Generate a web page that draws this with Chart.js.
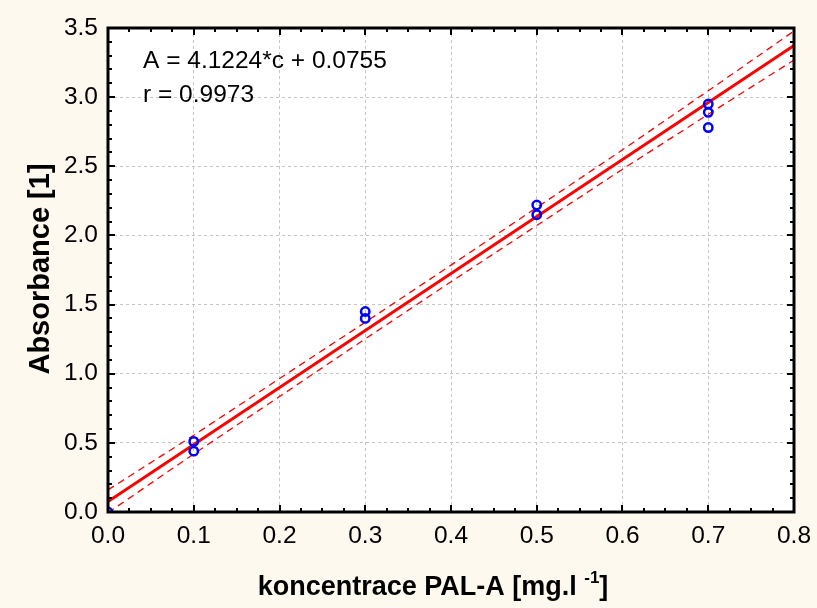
<!DOCTYPE html>
<html>
<head>
<meta charset="utf-8">
<script src="https://cdn.jsdelivr.net/npm/chart.js@4.4.0/dist/chart.umd.min.js"></script>
<style>
  html, body { margin: 0; padding: 0; background: #fdf9ef; }
  #wrap { width: 817px; height: 608px; }
</style>
</head>
<body>
<div id="wrap"><canvas id="chartContainer"></canvas></div>
<script>
"use strict";

// 1: data
let concX   = [0.0, 0.1, 0.1, 0.3, 0.3, 0.5, 0.5, 0.7, 0.7, 0.7];
let absorbY = [0.00, 0.51, 0.44, 1.45, 1.40, 2.22, 2.15, 2.95, 2.89, 2.78];

// regression line (end points from A = 4.1224*c + 0.0755)
let fitX = [0.0, 0.8];
let fitY = [0.0755, 3.3734];

// confidence band (dashed)
let bandX  = [0.0, 0.1, 0.2, 0.3, 0.4, 0.5, 0.6, 0.7, 0.8];
let upperY = [0.160, 0.555, 0.965, 1.372, 1.785, 2.202, 2.619, 3.046, 3.478];
let lowerY = [-0.005, 0.420, 0.835, 1.252, 1.665, 2.072, 2.479, 2.876, 3.268];

// axes
let xTicks = [0.0, 0.1, 0.2, 0.3, 0.4, 0.5, 0.6, 0.7, 0.8];
let yTicks = [0.0, 0.5, 1.0, 1.5, 2.0, 2.5, 3.0, 3.5];
let xMinorPerMajor = 4;
let yMinorPerMajor = 5;

// texts
let equationText = 'A = 4.1224*c + 0.0755';
let rText = 'r = 0.9973';
let yTitle = 'Absorbance [1]';
let xTitle = 'koncentrace PAL-A [mg.l ';
let xTitleSup = '-1';
let xTitleEnd = ']';

const FONT = '"Liberation Sans", Arial, sans-serif';

// 2: prepare data for chart
function toPoints(xs, ys) {
  let pts = [];
  for (let i = 0; i < xs.length; i++) {
    pts.push({ x: xs[i], y: ys[i] });
  }
  return pts;
}

// 3: frame, inner ticks, texts
const decorPlugin = {
  id: 'decor',
  beforeDraw(chart) {
    const { ctx, chartArea: a } = chart;
    ctx.save();
    ctx.fillStyle = '#fdf9ef';
    ctx.fillRect(0, 0, chart.width, chart.height);
    ctx.fillStyle = '#ffffff';
    ctx.fillRect(a.left, a.top, a.right - a.left, a.bottom - a.top);
    ctx.restore();
  },
  afterDraw(chart) {
    const { ctx, chartArea: a, scales: { x, y } } = chart;
    ctx.save();
    ctx.strokeStyle = '#000';
    ctx.lineWidth = 2;
    ctx.beginPath();
    // x ticks (bottom and top)
    for (let i = 0; i < xTicks.length; i++) {
      const steps = i < xTicks.length - 1 ? xMinorPerMajor : 1;
      for (let k = 0; k < steps; k++) {
        const v = xTicks[i] + (k / xMinorPerMajor) * (xTicks[1] - xTicks[0]);
        const px = Math.round(x.getPixelForValue(v));
        const len = k === 0 ? 7 : 4;
        ctx.moveTo(px, a.bottom); ctx.lineTo(px, a.bottom - len);
        ctx.moveTo(px, a.top); ctx.lineTo(px, a.top + len);
      }
    }
    // y ticks (left and right)
    for (let i = 0; i < yTicks.length; i++) {
      const steps = i < yTicks.length - 1 ? yMinorPerMajor : 1;
      for (let k = 0; k < steps; k++) {
        const v = yTicks[i] + (k / yMinorPerMajor) * (yTicks[1] - yTicks[0]);
        const py = Math.round(y.getPixelForValue(v));
        const len = k === 0 ? 7 : 4;
        ctx.moveTo(a.left, py); ctx.lineTo(a.left + len, py);
        ctx.moveTo(a.right, py); ctx.lineTo(a.right - len, py);
      }
    }
    ctx.stroke();

    // frame
    ctx.lineWidth = 3;
    ctx.strokeRect(a.left, a.top, a.right - a.left, a.bottom - a.top);

    // equation texts
    ctx.fillStyle = '#000';
    ctx.font = '24.5px ' + FONT;
    ctx.textAlign = 'left';
    ctx.textBaseline = 'alphabetic';
    ctx.fillText(equationText, 143, 68);
    ctx.fillText(rText, 143, 102);

    // y title
    ctx.font = 'bold 29px ' + FONT;
    ctx.save();
    ctx.translate(49, 269);
    ctx.rotate(-Math.PI / 2);
    ctx.textAlign = 'center';
    ctx.fillText(yTitle, 0, 0);
    ctx.restore();

    // x title with superscript
    const big = 'bold 27px ' + FONT;
    const small = 'bold 17px ' + FONT;
    ctx.font = big;
    const w1 = ctx.measureText(xTitle).width;
    const w3 = ctx.measureText(xTitleEnd).width;
    ctx.font = small;
    const w2 = ctx.measureText(xTitleSup).width;
    let sx = 433 - (w1 + w2 + w3) / 2;
    const base = 595;
    ctx.font = big;
    ctx.fillText(xTitle, sx, base);
    ctx.font = small;
    ctx.fillText(xTitleSup, sx + w1, base - 12);
    ctx.font = big;
    ctx.fillText(xTitleEnd, sx + w1 + w2, base);
    ctx.restore();
  }
};

// 4: create the chart
function appendChart() {
  let chartContainer = document.getElementById('chartContainer');
  Chart.defaults.font.family = FONT;
  new Chart(chartContainer, {
    type: 'scatter',
    data: {
      datasets: [{
        label: 'measured',
        data: toPoints(concX, absorbY),
        showLine: false,
        pointStyle: 'circle',
        pointRadius: 4.2,
        pointBorderWidth: 2.5,
        pointBorderColor: '#0000ff',
        pointBackgroundColor: 'rgba(255,255,255,0)',
        clip: 0
      },
      {
        label: 'fit',
        data: toPoints(fitX, fitY),
        showLine: true,
        borderColor: '#ff0000',
        borderWidth: 3,
        pointRadius: 0,
        fill: false
      },
      {
        label: 'upper',
        data: toPoints(bandX, upperY),
        showLine: true,
        borderColor: '#ff0000',
        borderWidth: 1.3,
        borderDash: [7, 5],
        pointRadius: 0,
        fill: false
      },
      {
        label: 'lower',
        data: toPoints(bandX, lowerY),
        showLine: true,
        borderColor: '#ff0000',
        borderWidth: 1.3,
        borderDash: [7, 5],
        pointRadius: 0,
        fill: false
      }]
    },
    options: {
      responsive: true,
      maintainAspectRatio: false,
      animation: false,
      devicePixelRatio: 1,
      layout: { padding: { left: 0, top: 28, right: 23, bottom: 0 } },
      plugins: {
        legend: { display: false },
        tooltip: { enabled: false }
      },
      scales: {
        x: {
          type: 'linear',
          min: 0,
          max: 0.8,
          afterBuildTicks: s => { s.ticks = xTicks.map(v => ({ value: v })); },
          afterFit: s => { s.height = 96; s.paddingLeft = 0; s.paddingRight = 0; },
          ticks: {
            callback: v => Number(v).toFixed(1),
            color: '#000',
            font: { size: 24.5 },
            padding: 10,
            maxRotation: 0,
            autoSkip: false
          },
          grid: { color: '#c4c4c4', lineWidth: 1, drawTicks: false },
          border: { display: false, dash: [3, 3] }
        },
        y: {
          type: 'linear',
          min: 0,
          max: 3.5,
          afterBuildTicks: s => { s.ticks = yTicks.map(v => ({ value: v })); },
          afterFit: s => { s.width = 108; s.paddingTop = 0; s.paddingBottom = 0; },
          ticks: {
            callback: v => Number(v).toFixed(1),
            color: '#000',
            font: { size: 24.5 },
            padding: 10,
            autoSkip: false
          },
          grid: { color: '#c4c4c4', lineWidth: 1, drawTicks: false },
          border: { display: false, dash: [3, 3] }
        }
      }
    },
    plugins: [decorPlugin]
  });
}

appendChart();
</script>
</body>
</html>
